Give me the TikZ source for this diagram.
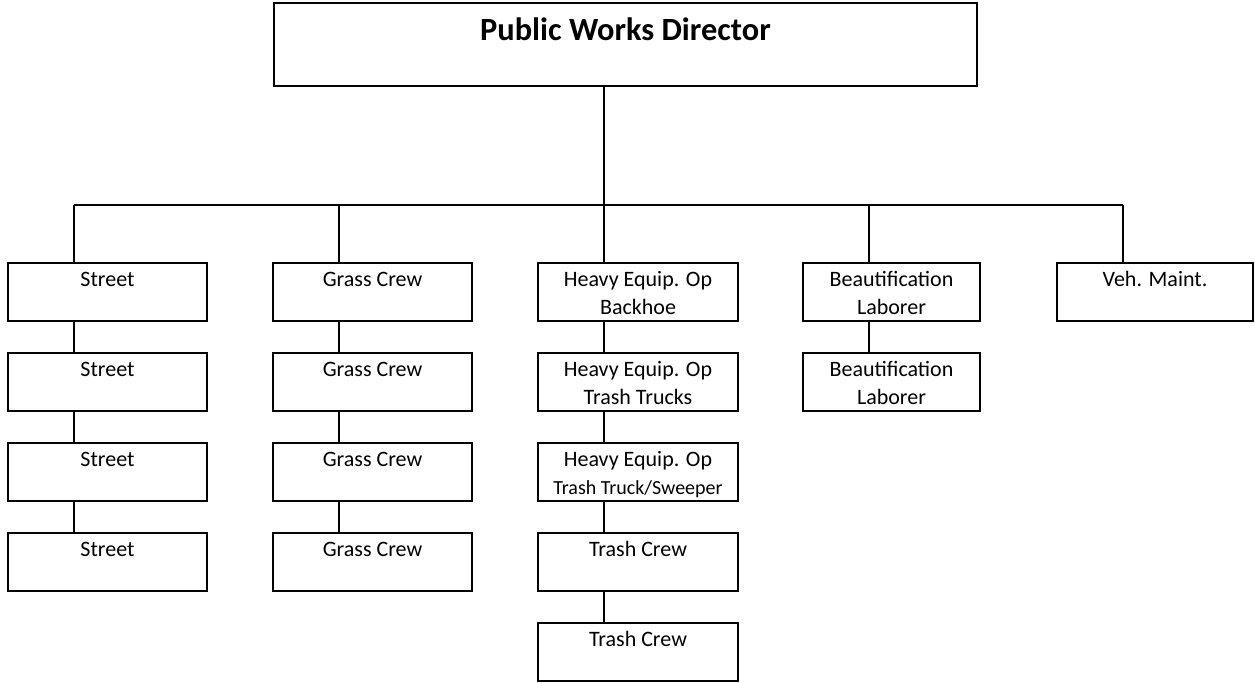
\documentclass[tikz,border=0pt]{standalone}
\usepackage{fontspec}
\setmainfont{Carlito}
\usetikzlibrary{positioning,calc}
\tikzset{%
	head/.style   = {draw, rectangle, line width=1.2pt, inner sep=0pt, font=\bfseries\fontsize{16.2}{19}\selectfont},
	unit/.style   = {draw, rectangle, line width=1.2pt, inner sep=0pt, font=\fontsize{11}{14}\selectfont},
	link/.style   = {line width=1pt},
	waypoint/.style = {coordinate},
}
% text sits at the top of each box
\newcommand{\cell}[2]{\parbox[c][29pt][t]{#1}{\centering\rule{0pt}{11.5pt}#2}}

\begin{document}
\begin{tikzpicture}[x=0.5pt,y=-0.5pt,node distance=45pt]
	\useasboundingbox (0,0) rectangle (1255,682);
	\node [head] (pwd) at (625.5,44.5) {\parbox[c][41.5pt][t]{351.5pt}{\centering\rule{0pt}{18.5pt}Public Works Director}};
	\node [waypoint] (bus) at (0,205) {};
	
	% street
	\node [unit] (s1) at (107.5,292) {\cell{99.5pt}{Street}};
	\node [unit] (s2) [below of=s1] {\cell{99.5pt}{Street}};
	\node [unit] (s3) [below of=s2] {\cell{99.5pt}{Street}};
	\node [unit] (s4) [below of=s3] {\cell{99.5pt}{Street}};
	
	% grass
	\node [unit] (g1) at (372.5,292) {\cell{99.5pt}{Grass Crew}};
	\node [unit] (g2) [below of=g1] {\cell{99.5pt}{Grass Crew}};
	\node [unit] (g3) [below of=g2] {\cell{99.5pt}{Grass Crew}};
	\node [unit] (g4) [below of=g3] {\cell{99.5pt}{Grass Crew}};
	
	% heavy equipment and trash
	\node [unit] (h1) at (638,292) {\cell{100pt}{Heavy Equip. Op\\Backhoe}};
	\node [unit] (h2) [below of=h1] {\cell{100pt}{Heavy Equip. Op\\Trash Trucks}};
	\node [unit] (h3) [below of=h2] {\cell{100pt}{Heavy Equip. Op\\{\fontsize{10}{12}\selectfont Trash Truck/Sweeper}}};
	\node [unit] (t1) [below of=h3] {\cell{100pt}{Trash Crew}};
	\node [unit] (t2) [below of=t1] {\cell{100pt}{Trash Crew}};
	
	% beautification
	\node [unit] (b1) at (891.5,292) {\cell{88.5pt}{Beautification\\Laborer}};
	\node [unit] (b2) [below of=b1] {\cell{88.5pt}{Beautification\\Laborer}};
	
	% vehicles
	\node [unit] (v1) at (1155,292) {\cell{98pt}{Veh. Maint.}};
	
	\coordinate (sj) at ([xshift=33.5pt]s1.north west);
	\coordinate (gj) at ([xshift=33.5pt]g1.north west);
	\coordinate (hj) at ([xshift=33.5pt]h1.north west);
	\coordinate (bj) at ([xshift=33.5pt]b1.north west);
	\coordinate (vj) at ([xshift=33.5pt]v1.north west);
	
	\draw[link] (pwd.south -| hj) -- (hj |- bus);
	\draw[link] (sj |- bus) -- (vj |- bus);
	\foreach \j in {sj,gj,hj,bj,vj}
		\draw[link] (\j |- bus) -- (\j);
	
	\foreach \a/\b in {s1/s2,s2/s3,s3/s4,g1/g2,g2/g3,g3/g4,h1/h2,h2/h3,h3/t1,t1/t2,b1/b2}
		\draw[link] ([xshift=33.5pt]\a.south west) -- ([xshift=33.5pt]\b.north west);
\end{tikzpicture}
\end{document}
